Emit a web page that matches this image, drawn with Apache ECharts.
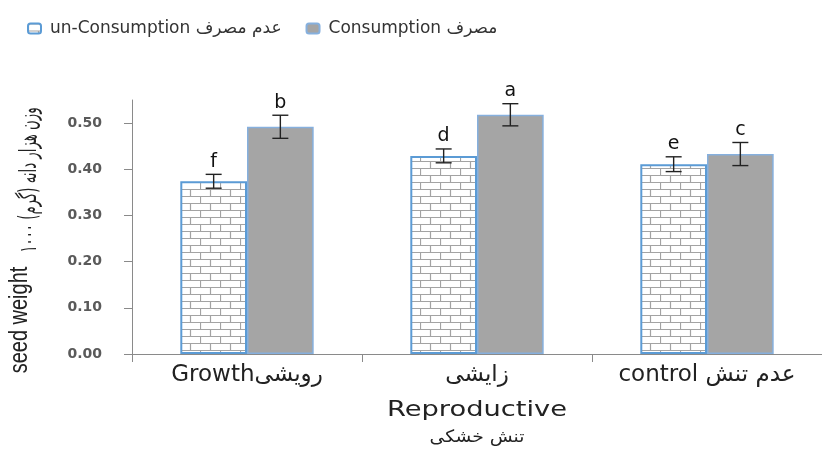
<!DOCTYPE html>
<html>
<head>
<meta charset="utf-8">
<script src="https://cdn.jsdelivr.net/npm/echarts@6/dist/echarts.min.js"></script>
<style>
  html, body { margin: 0; padding: 0; background: #fff; }
  #chart { width: 822px; height: 452px; }
</style>
</head>
<body>
<div id="chart"></div>
<script>
  // data
  var categories = ['Growthرويشى', 'زايشى', 'control عدم تنش'];
  var unConsumption = [0.374, 0.429, 0.411];
  var consumption = [0.492, 0.518, 0.433];
  var unConsErr = [0.015, 0.015, 0.016];
  var consErr = [0.025, 0.024, 0.025];
  var unConsLetters = ['f', 'd', 'e'];
  var consLetters = ['b', 'a', 'c'];
  var yTicks = [0, 0.1, 0.2, 0.3, 0.4, 0.5];

  var nameUn = 'un-Consumption عدم مصرف';
  var nameCons = 'Consumption مصرف';
  var barFrac = 0.29;
  var textFont = '"DejaVu Sans", sans-serif';

  // brick pattern for the un-consumption bars
  function brickPattern() {
    var c = document.createElement('canvas');
    c.width = 20; c.height = 14;
    var ctx = c.getContext('2d');
    ctx.fillStyle = '#fff';
    ctx.fillRect(0, 0, 20, 14);
    ctx.strokeStyle = '#a3a3a3';
    ctx.lineWidth = 1.2;
    ctx.beginPath();
    ctx.moveTo(0, 0.5); ctx.lineTo(20, 0.5);
    ctx.moveTo(0, 7.5); ctx.lineTo(20, 7.5);
    ctx.moveTo(0.5, 0); ctx.lineTo(0.5, 7);
    ctx.moveTo(10.5, 7); ctx.lineTo(10.5, 14);
    ctx.stroke();
    return c;
  }

  function errorSeries(vals, errs, letters, side) {
    return {
      type: 'custom',
      z: 10,
      encode: { x: 0, y: 1 },
      data: vals.map(function (v, i) { return [i, v, errs[i]]; }),
      renderItem: function (params, api) {
        var idx = api.value(0);
        var v = api.value(1), e = api.value(2);
        var band = api.size([1, 0])[0];
        var top = api.coord([idx, v + e]);
        var bot = api.coord([idx, v - e]);
        var x = top[0] + side * band * barFrac / 2;
        var hw = 8;
        var st = { stroke: '#222', lineWidth: 1.4 };
        return {
          type: 'group',
          children: [
            { type: 'line', shape: { x1: x, y1: top[1], x2: x, y2: bot[1] }, style: st },
            { type: 'line', shape: { x1: x - hw, y1: top[1], x2: x + hw, y2: top[1] }, style: st },
            { type: 'line', shape: { x1: x - hw, y1: bot[1], x2: x + hw, y2: bot[1] }, style: st },
            {
              type: 'text',
              style: {
                text: letters[params.dataIndex], x: x, y: top[1] - 3,
                align: 'center', verticalAlign: 'bottom',
                font: '19px ' + textFont, fill: '#111'
              }
            }
          ]
        };
      }
    };
  }

  var chart = echarts.init(document.getElementById('chart'));
  chart.setOption({
    animation: false,
    backgroundColor: '#fff',
    legend: {
      data: [nameUn, nameCons],
      left: 22,
      top: 15,
      itemWidth: 13,
      itemHeight: 10,
      itemGap: 24,
      textStyle: { fontFamily: textFont, fontSize: 17, color: '#333', padding: [0, 0, 0, 4] }
    },
    grid: { left: 132, right: 0, top: 100, bottom: 98 },
    xAxis: {
      type: 'category',
      data: categories,
      axisLine: { lineStyle: { color: '#8a8a8a', width: 1 } },
      axisTick: { show: true, length: 8, lineStyle: { color: '#8a8a8a' } },
      axisLabel: { interval: 0, hideOverlap: false, fontFamily: textFont, fontSize: 23, color: '#222', margin: 10 }
    },
    yAxis: {
      type: 'value',
      min: 0,
      max: 0.55,
      interval: 0.1,
      splitLine: { show: false },
      axisLine: { show: true, lineStyle: { color: '#8a8a8a', width: 1 } },
      axisTick: { show: true, length: 8, customValues: yTicks, lineStyle: { color: '#8a8a8a' } },
      axisLabel: {
        customValues: yTicks,
        margin: 30,
        fontFamily: textFont, fontSize: 14, fontWeight: 'bold', color: '#5a5a5a',
        formatter: function (v) { return v.toFixed(2); }
      }
    },
    graphic: [
      {
        type: 'text', rotation: Math.PI / 2, x: 20, y: 320, scaleY: 1.3,
        style: {
          text: 'seed weight', align: 'center', verticalAlign: 'middle',
          font: '20px "Liberation Sans Narrow", "Liberation Sans", sans-serif', fill: '#222'
        }
      },
      {
        type: 'text', rotation: Math.PI / 2, x: 30, y: 180, scaleY: 1.5, scaleX: 0.83,
        style: {
          text: 'وزن هزار دانه (گرم) ۱۰۰۰', align: 'center', verticalAlign: 'middle',
          font: '16px ' + textFont, fill: '#222'
        }
      },
      {
        type: 'text', x: 477, y: 411, scaleX: 1.3,
        style: {
          text: 'Reproductive', align: 'center', verticalAlign: 'middle',
          font: '21px ' + textFont, fill: '#222'
        }
      },
      {
        type: 'text', x: 477, y: 438, scaleX: 1.1,
        style: {
          text: 'تنش خشكى', align: 'center', verticalAlign: 'middle',
          font: '17px ' + textFont, fill: '#222'
        }
      }
    ],
    series: [
      {
        name: nameUn,
        type: 'bar',
        barWidth: (barFrac * 100) + '%',
        barGap: '0%',
        data: unConsumption,
        itemStyle: {
          color: { image: brickPattern(), repeat: 'repeat' },
          borderColor: '#5b9bd5',
          borderWidth: 2
        }
      },
      {
        name: nameCons,
        type: 'bar',
        barWidth: (barFrac * 100) + '%',
        barGap: '0%',
        data: consumption,
        itemStyle: { color: '#a5a5a5', borderColor: '#86b0de', borderWidth: 1.5 }
      },
      errorSeries(unConsumption, unConsErr, unConsLetters, -1),
      errorSeries(consumption, consErr, consLetters, 1)
    ]
  });
</script>
</body>
</html>
